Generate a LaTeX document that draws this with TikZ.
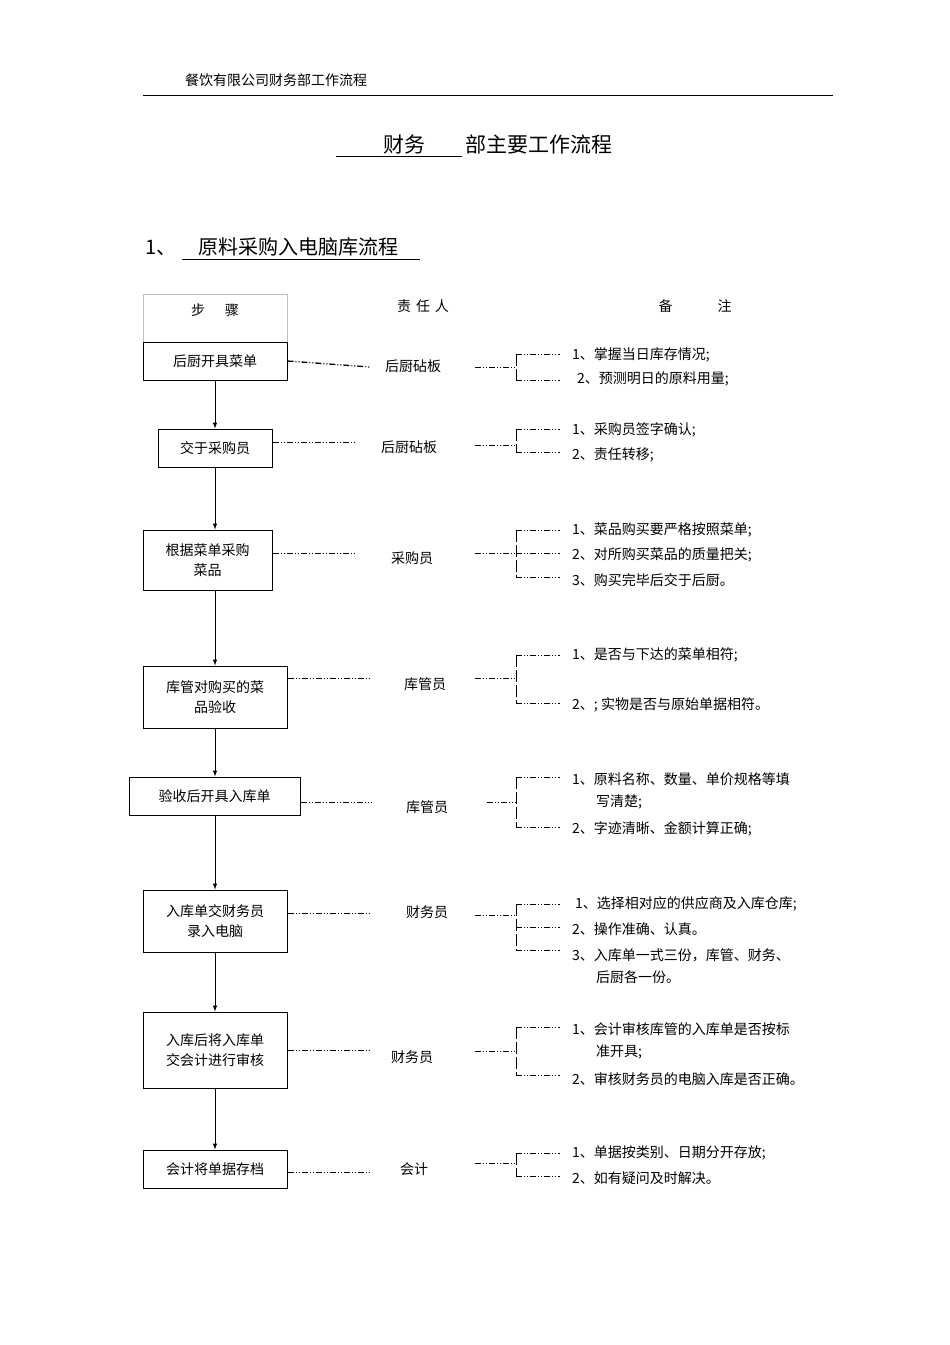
\documentclass[tikz,border=0pt]{standalone}
\usepackage{fontspec}
\setmainfont{Noto Sans CJK SC}
\begin{document}
\begin{tikzpicture}[x=1pt,y=-1pt,
  stepbox/.style={draw,line width=1pt,font=\fontsize{14}{20}\selectfont,align=center},
  txt/.style={font=\fontsize{14}{20}\selectfont,anchor=west,inner sep=0},
  lk/.style={line width=0.6pt,dash pattern=on 6pt off 2pt on 1pt off 2pt on 1pt off 2pt},
  arr/.style={-latex,line width=1pt}]
\useasboundingbox[fill=white] (0,0) rectangle (950,1345);
\node[txt] (hd) at (185,80) {餐饮有限公司财务部工作流程};
\draw[line width=0.6pt] (143,95) -- (833,95);
\node[font=\fontsize{21}{24}\selectfont,inner sep=0] (tt) at (488,144) {\hspace*{20pt}财务\hspace*{40pt}部主要工作流程};
\draw[line width=0.8pt] (336,156) -- (462,156);
\node[font=\fontsize{20}{24}\selectfont,anchor=west,inner sep=0] (sec) at (145,247) {1、\hspace{22pt}原料采购入电脑库流程};
\draw[line width=0.8pt] (182,259) -- (420,259);
\draw[gray!50] (143,294) rectangle (287,342);
\node[txt,anchor=center] (h1) at (215,310) {步\hspace{20pt}骤};
\node[txt,anchor=center] (h2) at (423,306) {责\hspace{5pt}任\hspace{5pt}人};
\node[txt,anchor=center] (h3) at (695,306) {备\hspace{45pt}注};
% steps
\newcommand{\stepnode}[6]{\node[stepbox,minimum width=#4-#2,minimum height=#5-#3] (#1) at ({(#2+#4)/2},{(#3+#5)/2}) {#6};}
\stepnode{s1}{143}{342}{287}{380}{后厨开具菜单}
\stepnode{s2}{158}{429}{272}{467}{交于采购员}
\stepnode{s3}{143}{530}{272}{590}{根据菜单采购\\菜品}
\stepnode{s4}{143}{666}{287}{728}{库管对购买的菜\\品验收}
\stepnode{s5}{129}{777}{300}{815}{验收后开具入库单}
\stepnode{s6}{143}{890}{287}{952}{入库单交财务员\\录入电脑}
\stepnode{s7}{143}{1012}{287}{1088}{入库后将入库单\\交会计进行审核}
\stepnode{s8}{143}{1150}{287}{1188}{会计将单据存档}
\foreach \a/\b in {s1/s2,s2/s3,s3/s4,s4/s5,s5/s6,s6/s7,s7/s8}
  \draw[arr] (\a.south -| 215,0) -- (\b.north -| 215,0);
% persons
\foreach \n/\x/\y/\t in {p1/413/366/后厨砧板,p2/409/447/后厨砧板,p3/412/558/采购员,p4/425/684/库管员,p5/427/807/库管员,p6/427/912/财务员,p7/412/1057/财务员,p8/414/1169/会计}
  \node[txt,anchor=center] (\n) at (\x,\y) {\t};
\draw[lk,line width=1.3pt] (s1.east) -- (370,367);
\foreach \s/\e/\y in {s2/355/442,s3/355/553,s4/370/678,s5/372/802,s6/370/913,s7/370/1050,s8/370/1172}
  \draw[lk] (\s.east |- 0,\y) -- (\e,\y);
% brackets
\newcommand{\brk}[4]{%
  \draw[lk] (#2,#1) -- (516,#1);
  \draw[line width=0.8pt,dash pattern=on 12pt off 3pt] (516,#3) -- (516,#4);
  \foreach \ty in {#3,#4} \draw[lk] (516,\ty) -- (560,\ty);}
\brk{367}{475}{354}{380}
\brk{445}{475}{429}{452}
\brk{553}{475}{530}{577}
\draw[lk] (516,553) -- (560,553);
\brk{678}{475}{655}{703}
\brk{802}{487}{777}{827}
\brk{915}{475}{904}{950}
\draw[lk] (516,927) -- (560,927);
\brk{1051}{475}{1027}{1075}
\brk{1163}{475}{1153}{1176}
% notes
\foreach \n/\x/\y/\t in {
 n1/572/355/{1、掌握当日库存情况;},n2/577/379/{2、预测明日的原料用量;},
 n3/572/430/{1、采购员签字确认;},n4/572/455/{2、责任转移;},
 n5/572/530/{1、菜品购买要严格按照菜单;},n6/572/555/{2、对所购买菜品的质量把关;},n7/572/580/{3、购买完毕后交于后厨。},
 n8/572/655/{1、是否与下达的菜单相符;},n9/572/705/{2、;\ 实物是否与原始单据相符。},
 n10/572/779/{1、原料名称、数量、单价规格等填},n11/596/802/{写清楚;},n12/572/829/{2、字迹清晰、金额计算正确;},
 n13/575/904/{1、选择相对应的供应商及入库仓库;},n14/572/929/{2、操作准确、认真。},n15/572/955/{3、入库单一式三份，库管、财务、},n16/596/977/{后厨各一份。},
 n17/572/1029/{1、会计审核库管的入库单是否按标},n18/596/1052/{准开具;},n19/572/1079/{2、审核财务员的电脑入库是否正确。},
 n20/572/1153/{1、单据按类别、日期分开存放;},n21/572/1178/{2、如有疑问及时解决。}}
  \node[txt] (\n) at (\x,\y) {\t};
\end{tikzpicture}
\end{document}
